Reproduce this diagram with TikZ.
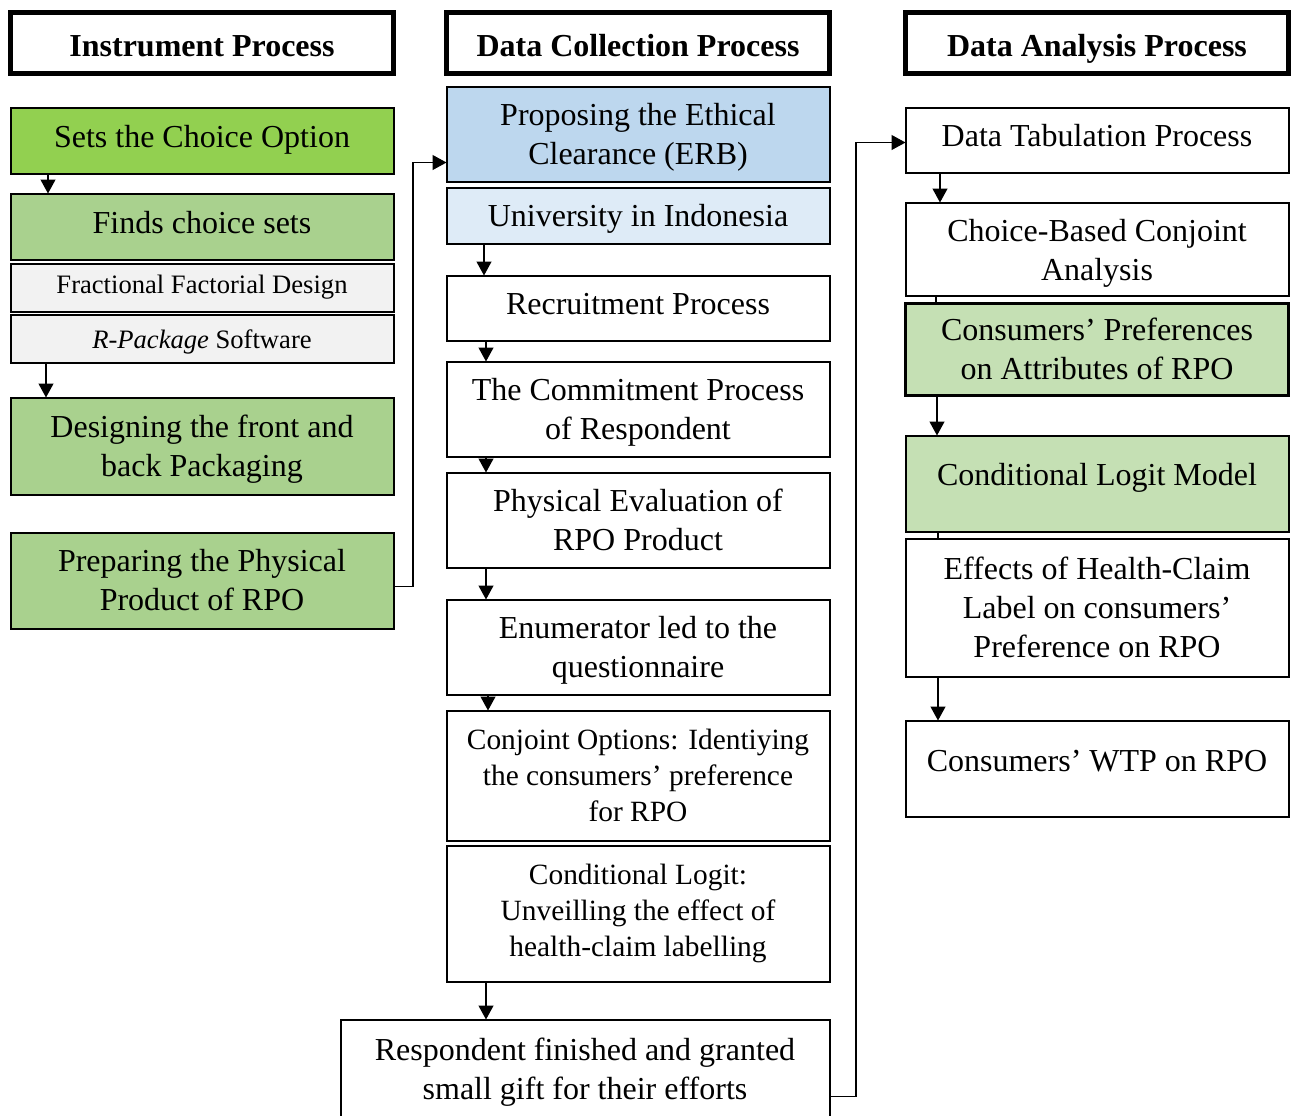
\documentclass[tikz,border=0pt]{standalone}
\usepackage{fontspec}
\setmainfont{Liberation Serif}
\usetikzlibrary{arrows.meta,positioning}
\definecolor{flowInk}{HTML}{000000}
\definecolor{flowLime}{HTML}{92D050}
\definecolor{flowGreen}{HTML}{A9D18E}
\definecolor{flowSage}{HTML}{C5E0B4}
\definecolor{flowGrey}{HTML}{F2F2F2}
\definecolor{flowBlue}{HTML}{BDD7EE}
\definecolor{flowSky}{HTML}{DEEBF7}
\tikzset{
  flow/base/.style={draw=flowInk, line width=1pt, align=center,
    minimum width=191.5pt, inner sep=2pt, outer sep=0pt,
    font=\fontsize{16}{19.5}\selectfont},
  flow/head/.style={flow/base, line width=2.5pt, minimum height=30.5pt,
    text height=13pt, text depth=0pt,
    font=\fontsize{16}{19.5}\selectfont\bfseries},
  flow/plain/.style={flow/base, fill=white},
  flow/lime/.style={flow/base, fill=flowLime},
  flow/green/.style={flow/base, fill=flowGreen},
  flow/sage/.style={flow/base, fill=flowSage},
  flow/grey/.style={flow/base, fill=flowGrey},
  flow/blue/.style={flow/base, fill=flowBlue},
  flow/sky/.style={flow/base, fill=flowSky},
  % baseline placement for one- and two-line entries
  flow/one/.style={text height=11pt, text depth=4.4pt},
  flow/two/.style={text height=30pt, text depth=0pt},
  % smaller text for the sub-boxes and the long middle entries
  flow/small/.style={font=\fontsize{13.3}{16}\selectfont},
  flow/mid/.style={font=\fontsize{14.7}{18}\selectfont},
  flow/arrow/.style={-{Triangle[length=7pt,width=7.5pt]}, draw=flowInk,
    line width=0.6pt},
  flow/link/.style={draw=flowInk, line width=0.6pt},
}

\begin{document}
\begin{tikzpicture}[
  box/.style={flow/plain},
  arrow/.style={flow/arrow}
]
\useasboundingbox (0,0) rectangle (645.5pt,-557.5pt);
\node[flow/head] (instr) at (101pt,-21.5pt) {Instrument Process};
\node[flow/head, right=26.5pt of instr] (collect) {Data Collection Process};
\node[flow/head, right=38pt of collect] (analysis) {Data Analysis Process};

\node[flow/lime, flow/one, minimum height=33pt, below=17pt of instr] (choice) {Sets the Choice Option};
\node[flow/green, flow/one, minimum height=33pt, below=10pt of choice] (sets) {Finds choice sets};
\node[flow/grey, flow/small, minimum height=24pt, below=2pt of sets] (ffd) {Fractional Factorial Design};
\node[flow/grey, flow/small, text height=10pt, text depth=0pt, minimum height=24pt, below=1.5pt of ffd] (rpkg) {\textit{R-Package} Software};
\node[flow/green, flow/two, minimum height=48.5pt, below=17.5pt of rpkg] (pack) {Designing the front and\\back Packaging};
\node[flow/green, flow/two, minimum height=48pt, below=19pt of pack] (phys) {Preparing the Physical\\Product of RPO};

\node[flow/blue, flow/two, minimum height=47.5pt, below=6.5pt of collect] (erb) {Proposing the Ethical\\Clearance (ERB)};
\node[flow/sky, text height=11pt, text depth=0.5pt, minimum height=28pt, below=3pt of erb] (univ) {University in Indonesia};
\node[box, flow/one, minimum height=32.5pt, below=16pt of univ] (recruit) {Recruitment Process};
\node[box, flow/two, minimum height=47.5pt, below=10.5pt of recruit] (commit) {The Commitment Process\\of Respondent};
\node[box, flow/two, minimum height=47.5pt, below=8pt of commit] (evalrpo) {Physical Evaluation of\\RPO Product};
\node[box, flow/two, minimum height=47.5pt, below=16pt of evalrpo] (enum) {Enumerator led to the\\questionnaire};
\node[box, flow/mid, minimum height=65pt, below=8pt of enum] (conjoint) {Conjoint Options: Identiying\\the consumers’ preference\\for RPO};
\node[box, flow/mid, minimum height=68pt, below=2.5pt of conjoint] (clogit) {Conditional Logit:\\Unveilling the effect of\\health-claim labelling};
\node[box, flow/two, minimum width=244.5pt, minimum height=50pt, below left=19pt and 0pt of clogit.south east] (gift) {Respondent finished and granted\\small gift for their efforts};

\node[box, flow/one, minimum height=32.5pt, below=17pt of analysis] (tab) {Data Tabulation Process};
\node[box, flow/two, text height=31pt, minimum height=46.5pt, below=15pt of tab] (cbc) {Choice-Based Conjoint\\Analysis};
\node[flow/sage, flow/two, line width=1.5pt, minimum height=46pt, below=4pt of cbc] (pref) {Consumers’ Preferences\\on Attributes of RPO};
\node[flow/sage, text height=11pt, text depth=9pt, minimum height=48pt, below=20pt of pref] (clm) {Conditional Logit Model};
\node[box, minimum height=69pt, below=3.5pt of clm] (health) {Effects of Health-Claim\\Label on consumers’\\Preference on RPO};
\node[box, text height=11pt, text depth=8.3pt, minimum height=48pt, below=22pt of health] (wtp) {Consumers’ WTP on RPO};

\draw[arrow] ([xshift=18.75pt]choice.south west) -- ([xshift=18.75pt]sets.north west);
\draw[arrow] ([xshift=17.75pt]rpkg.south west) -- ([xshift=17.75pt]pack.north west);
\draw[arrow] ([yshift=-3pt]phys.east) -- ++(9.75pt,0) |- ([yshift=-14.25pt]erb.west);

\draw[arrow] ([xshift=18.75pt]univ.south west) -- ([xshift=18.75pt]recruit.north west);
\draw[arrow] ([xshift=19.75pt]recruit.south west) -- ([xshift=19.75pt]commit.north west);
\draw[arrow] ([xshift=19.75pt]commit.south west) -- ([xshift=19.75pt]evalrpo.north west);
\draw[arrow] ([xshift=19.75pt]evalrpo.south west) -- ([xshift=19.75pt]enum.north west);
\draw[arrow] ([xshift=20.75pt]enum.south west) -- ([xshift=20.75pt]conjoint.north west);
\draw[arrow] ([xshift=19.75pt]clogit.south west) -- ([xshift=19.75pt]clogit.south west |- gift.north);
\draw[arrow] ([yshift=-13.5pt]gift.east) -- ++(13.25pt,0) |- ([yshift=-1.25pt]tab.west);

\draw[arrow] ([xshift=17.25pt]tab.south west) -- ([xshift=17.25pt]cbc.north west);
\draw[flow/link] ([xshift=15.25pt]cbc.south west) -- ([xshift=15.25pt]pref.north west);
\draw[arrow] ([xshift=15.75pt]pref.south west) -- ([xshift=15.75pt]clm.north west);
\draw[flow/link] ([xshift=16.25pt]clm.south west) -- ([xshift=16.25pt]health.north west);
\draw[arrow] ([xshift=16.25pt]health.south west) -- ([xshift=16.25pt]wtp.north west);
\end{tikzpicture}
\end{document}
